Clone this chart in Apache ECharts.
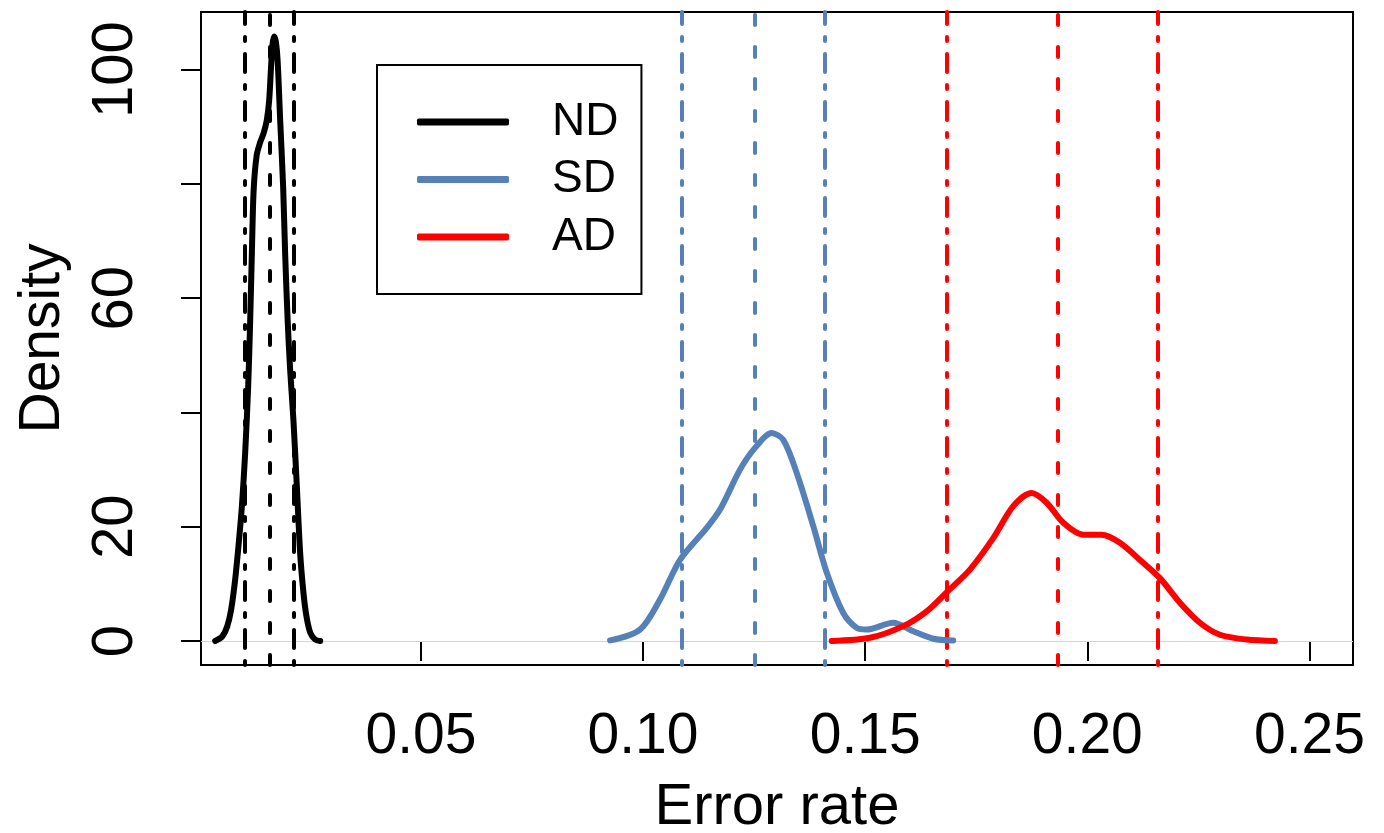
<!DOCTYPE html>
<html>
<head>
<meta charset="utf-8">
<script src="https://cdn.jsdelivr.net/npm/echarts@6/dist/echarts.min.js"></script>
<style>
html,body{margin:0;padding:0;background:#fff;}
#chart{width:1384px;height:833px;}
</style>
</head>
<body>
<div id="chart"></div>
<script>
// ---- data ----
var seriesNames = ['ND', 'SD', 'AD'];
var seriesColors = ['#000000', '#5581B8', '#FF0000'];

var ndX = [0.00369,0.00527,0.00639,0.00729,0.00819,0.00893,0.00970,0.01044,0.01112,0.01157,0.01195,0.01235,0.01303,0.01382,0.01460,0.01532,0.01584,0.01629,0.01663,0.01697,0.01737,0.01775,0.01832,0.01899,0.01944,0.02000,0.02057,0.02131,0.02207,0.02282,0.02349,0.02417,0.02507,0.02619,0.02732];
var ndY = [0,0.79,2.54,5.51,10.75,16.57,23.56,32.9,44.6,56.1,67.9,78.9,85.0,87.3,88.9,91.2,94.6,100.8,104.6,105.8,104.8,101.6,91.2,79.5,67.8,56.2,47.4,38.6,27.1,15.4,9.0,4.63,1.49,0.26,0];

var sdX = [0.09257,0.09932,0.10382,0.10833,0.11433,0.11733,0.12183,0.12520,0.12896,0.13157,0.13459,0.13832,0.14134,0.14507,0.14809,0.15034,0.15632,0.16082,0.16532,0.16982];
var sdY = [0.1,2.0,7.25,14.2,19.8,23.0,30.0,33.8,36.4,35.2,29.4,20.1,12.0,4.9,2.3,2.0,3.2,1.7,0.4,0.1];

var adX = [0.14246,0.15108,0.15857,0.16384,0.16856,0.17358,0.17882,0.18333,0.18747,0.19084,0.19458,0.19908,0.20322,0.20733,0.21184,0.21634,0.22084,0.22534,0.22984,0.23585,0.24222];
var adY = [0,0.56,2.6,5.2,8.7,12.5,18.0,23.6,25.9,24.2,20.7,18.6,18.6,17.2,14.2,11.0,6.7,3.2,1.1,0.26,0];

// vertical reference lines: [lower, centre, upper]
var ndLines = [0.01044, 0.01607, 0.02147];
var sdLines = [0.10871, 0.12520, 0.14084];
var adLines = [0.16840, 0.19327, 0.21589];

var xTicks = [0.05, 0.10, 0.15, 0.20, 0.25];
var yTicks = [0, 20, 40, 60, 80, 100];
var yTickLabels = [0, 20, 60, 100];

// ---- chart ----
function pairs(xs, ys) { return xs.map(function (x, i) { return [x, ys[i]]; }); }
var DASH = [10, 22];
var DOTDASH = [4, 13, 18, 13];
function vlines(vals, color) {
  return vals.map(function (v, i) {
    return { xAxis: v, lineStyle: { color: color, width: 4, cap: 'round', type: i === 1 ? DASH : DOTDASH } };
  });
}
var F = 'Liberation Sans, Arial, Helvetica, sans-serif';

function makeSeries(name, color, data, lines, extra) {
  var ml = vlines(lines, color);
  if (extra) ml = extra.concat(ml);
  return {
    name: name, type: 'line', data: data, color: color,
    smooth: 0.3, showSymbol: false, symbol: 'none',
    lineStyle: { color: color, width: 6, cap: 'round', join: 'round' },
    itemStyle: { color: color },
    z: 3,
    markLine: { silent: true, precision: 6, symbol: ['none', 'none'], label: { show: false }, animation: false, data: ml, z: 2 }
  };
}

var chart = echarts.init(document.getElementById('chart'), null, { renderer: 'canvas' });
chart.setOption({
  animation: false,
  backgroundColor: '#fff',
  grid: { left: 201, right: 31, top: 12, bottom: 168, show: true, borderColor: '#000', borderWidth: 2,
    backgroundColor: 'transparent', containLabel: false, outerBoundsMode: 'none' },
  legend: {
    data: seriesNames, orient: 'vertical', left: 377, top: 65,
    padding: [34, 23, 34, 40], itemGap: 11.5, itemWidth: 92, itemHeight: 7,
    icon: 'roundRect', borderColor: '#000', borderWidth: 2, selectedMode: false,
    textStyle: { fontFamily: F, fontSize: 46, lineHeight: 46, color: '#000', padding: [0, 0, 0, 38] }
  },
  xAxis: {
    type: 'value', min: 0.0005, max: 0.2598,
    name: 'Error rate', nameLocation: 'middle', nameGap: 114,
    nameTextStyle: { fontFamily: F, fontSize: 58, color: '#000' },
    axisLine: { show: false },
    splitLine: { show: false },
    axisTick: { show: true, inside: false, length: 20, lineStyle: { color: '#000', width: 2 }, customValues: xTicks },
    axisLabel: { fontFamily: F, fontSize: 57, lineHeight: 57, color: '#000', margin: 44, customValues: xTicks,
      formatter: function (v) { return v.toFixed(2); } }
  },
  yAxis: {
    type: 'value', min: -4.2, max: 110.1,
    name: 'Density', nameLocation: 'middle', nameGap: 129,
    nameTextStyle: { fontFamily: F, fontSize: 57, color: '#000' },
    axisLine: { show: false },
    splitLine: { show: false },
    axisTick: { show: true, inside: false, length: 20, lineStyle: { color: '#000', width: 2 }, customValues: yTicks },
    axisLabel: { fontFamily: F, fontSize: 58, lineHeight: 58, color: '#000', margin: 56, rotate: 90, customValues: yTickLabels }
  },
  series: [
    makeSeries('ND', seriesColors[0], pairs(ndX, ndY), ndLines,
      [{ yAxis: 0, lineStyle: { color: '#d3d3d3', width: 1, type: 'solid' } }]),
    makeSeries('SD', seriesColors[1], pairs(sdX, sdY), sdLines),
    makeSeries('AD', seriesColors[2], pairs(adX, adY), adLines)
  ]
});
</script>
</body>
</html>
